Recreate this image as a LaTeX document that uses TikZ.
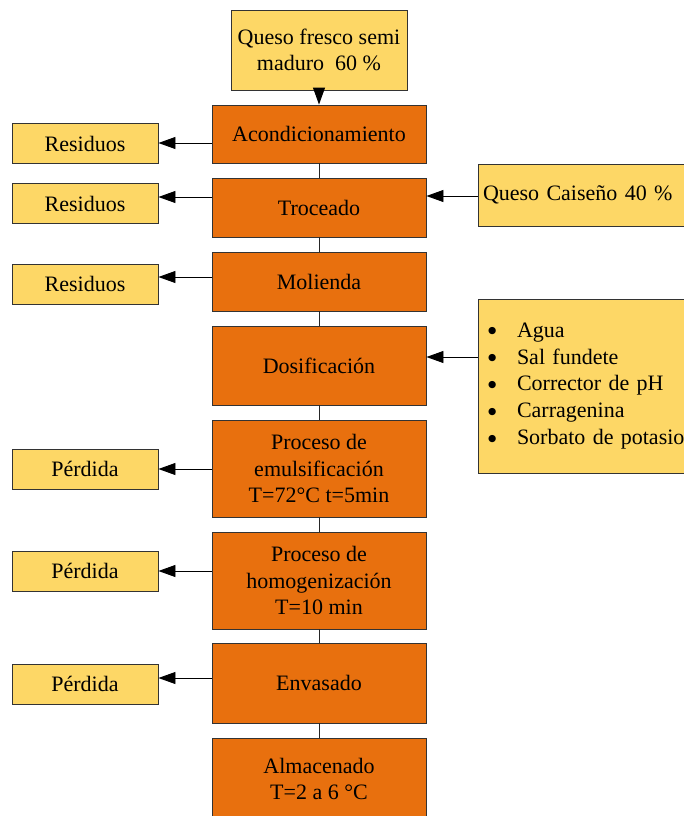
\documentclass[tikz,border=0pt]{standalone}
\usepackage{fontspec}
\setmainfont{Liberation Serif}
\newfontfamily\symfont{DejaVu Sans}
\usetikzlibrary{arrows.meta}
\definecolor{orng}{HTML}{E8700E}
\definecolor{ylw}{HTML}{FDD766}
\newcommand{\blt}{\makebox[29pt][l]{\raisebox{3.5pt}{\symfont\fontsize{9.5}{10}\selectfont ●}}}
\begin{document}
\begin{tikzpicture}[x=1pt,y=-1pt,
 box/.style={draw=black!80,line width=0.9pt,inner sep=0pt,align=center,font=\fontsize{22}{26.5}\selectfont},
 proc/.style={box,fill=orng,minimum width=214pt},
 side/.style={box,fill=ylw},
 outbox/.style={side,minimum width=146pt,minimum height=40pt},
 arr/.style={-{Triangle[length=17pt,width=12pt]},line width=0.9pt,draw=black},
 link/.style={line width=0.9pt,draw=black!85}]
\useasboundingbox (0,0) rectangle (684,816);
% main column
\node[side,minimum width=176pt,minimum height=80pt] (top) at (319,50) {Queso fresco semi\\maduro\ \ 60 \%};
\node[proc,minimum height=58pt] (p1) at (319,134) {Acondicionamiento};
\node[proc,minimum height=59pt] (p2) at (319,207.5) {Troceado};
\node[proc,minimum height=59pt] (p3) at (319,281.5) {Molienda};
\node[proc,minimum height=79pt] (p4) at (319,365.5) {Dosificación};
\node[proc,minimum height=97pt] (p5) at (319,468.5) {Proceso de\\emulsificación\\T=72°C t=5min};
\node[proc,minimum height=97pt] (p6) at (319,580.5) {Proceso de\\homogenización\\T=10 min};
\node[proc,minimum height=80pt] (p7) at (319,683) {Envasado};
\node[proc,minimum height=82pt] (p8) at (319,779) {Almacenado\\T=2 a 6 °C};
% left outputs
\node[outbox] (r1) at (85,143.5) {Residuos};
\node[outbox] (r2) at (85,203.5) {Residuos};
\node[outbox] (r3) at (85,284) {Residuos};
\node[outbox] (l1) at (85,469) {Pérdida};
\node[outbox] (l2) at (85,571) {Pérdida};
\node[outbox] (l3) at (85,684) {Pérdida};
% right inputs
\node[side,minimum width=222pt,text width=212pt,inner xsep=5pt,align=left,minimum height=62pt] (in1) at (589,195) {Queso Caiseño 40 \%};
\node[side,minimum width=222pt,text width=202pt,inner xsep=10pt,align=left,minimum height=174pt,font=\fontsize{22}{26.8}\selectfont] (in2) at (589,386)
 {\blt Agua\\\blt Sal fundete\\\blt Corrector de pH\\\blt Carragenina\\\blt Sorbato de potasio};
% vertical connectors
\draw[arr] (top) -- (p1);
\draw[link] (p1) -- (p2);
\draw[link] (p2) -- (p3);
\draw[link] (p3) -- (p4);
\draw[link] (p4) -- (p5);
\draw[link] (p5) -- (p6);
\draw[link] (p6) -- (p7);
\draw[link] (p7) -- (p8);
% side arrows
\draw[arr] (p1.west |- 0,143) -- (r1.east |- 0,143);
\draw[arr] (p2.west |- 0,197) -- (r2.east |- 0,197);
\draw[arr] (p3.west |- 0,277) -- (r3.east |- 0,277);
\draw[arr] (p5.west |- l1.east) -- (l1.east);
\draw[arr] (p6.west |- l2.east) -- (l2.east);
\draw[arr] (p7.west |- 0,678) -- (l3.east |- 0,678);
\draw[arr] (in1.west |- 0,196) -- (p2.east |- 0,196);
\draw[arr] (in2.west |- 0,357) -- (p4.east |- 0,357);
\end{tikzpicture}
\end{document}
